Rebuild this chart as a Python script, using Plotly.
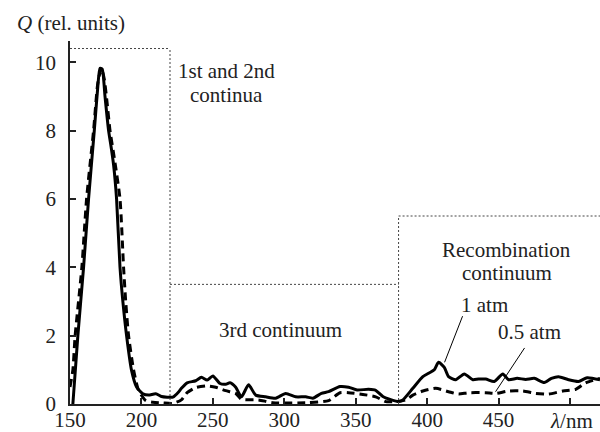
import plotly.graph_objects as go

# ---- data ----
wl_1atm = [152, 155.5, 159.5, 163, 167, 169.5, 171, 172.5, 174.5, 177, 178.5, 180.5, 182.6, 185, 187, 189.6,
           193, 196.6, 201, 205, 210, 214, 218, 222, 226, 228, 232, 238, 242, 246, 250, 255, 259, 262, 266,
           270, 275, 280, 287, 294, 301, 308, 315, 320, 326, 331, 339, 345, 351, 359, 364, 369, 375, 380,
           383, 390, 397, 401, 405, 408, 412, 415, 420, 426, 432, 436, 441, 447, 453, 457, 463, 469, 475,
           482, 487, 492, 499, 506, 512, 521]
q_1atm = [0.0, 2.0, 4.0, 6.0, 8.0, 9.3, 9.82, 9.8, 9.0, 8.0, 7.6, 7.0, 6.0, 4.0, 3.0, 2.0,
          1.0, 0.5, 0.3, 0.26, 0.3, 0.22, 0.2, 0.2, 0.35, 0.46, 0.62, 0.68, 0.78, 0.7, 0.82, 0.6, 0.58, 0.62, 0.49,
          0.21, 0.56, 0.26, 0.21, 0.17, 0.31, 0.21, 0.21, 0.17, 0.31, 0.36, 0.51, 0.49, 0.41, 0.43, 0.4, 0.22, 0.12, 0.07,
          0.12, 0.46, 0.8, 0.9, 1.0, 1.22, 1.07, 0.8, 0.71, 0.88, 0.71, 0.73, 0.73, 0.66, 0.88, 0.71, 0.75, 0.72, 0.75,
          0.63, 0.75, 0.8, 0.71, 0.66, 0.77, 0.71]

wl_05atm = [150, 152, 153.6, 158.3, 161.6, 166.5, 169.5, 172, 174, 176, 178, 181, 185, 187.5, 189, 191,
            194.5, 198, 203, 208, 215, 222, 228, 232, 238, 246, 252, 259, 266, 270, 282, 292, 317, 331,
            339, 345, 355, 364, 371, 378, 385, 390, 397, 406, 415, 422, 429, 441, 448, 457, 467, 476,
            485, 495, 504, 511, 521]
q_05atm = [0.5, 1.0, 2.0, 4.0, 6.0, 8.0, 9.4, 9.82, 9.5, 8.8, 8.0, 7.2, 6.0, 4.0, 3.0, 2.0,
           1.0, 0.4, 0.1, 0.05, 0.03, 0.02, 0.12, 0.33, 0.48, 0.53, 0.49, 0.39, 0.31, 0.14, 0.12, 0.04, 0.04, 0.1,
           0.33, 0.33, 0.28, 0.21, 0.07, 0.07, 0.12, 0.26, 0.38, 0.46, 0.36, 0.29, 0.33, 0.33, 0.31, 0.38, 0.38, 0.31,
           0.29, 0.38, 0.43, 0.62, 0.75]

x_ticks = [150, 200, 250, 300, 350, 400, 450, 500]
x_tick_text = ["150", "200", "250", "300", "350", "400", "450", ""]
y_ticks = [0, 2, 4, 6, 8, 10]

region_edges = [150, 220, 380, 521]
region_tops = [10.4, 3.5, 5.5]

FONT = "Liberation Serif"
ML, MR, MT, MB = 70, 0, 41, 28
W, H = 600, 432
PW, PH = W - ML - MR, H - MT - MB

fig = go.Figure()
fig.add_trace(go.Scatter(x=wl_05atm, y=q_05atm, mode="lines", name="0.5 atm",
                         line=dict(color="black", width=3, dash="8px,5px", shape="spline", smoothing=0.6)))
fig.add_trace(go.Scatter(x=wl_1atm, y=q_1atm, mode="lines", name="1 atm",
                         line=dict(color="black", width=3, shape="spline", smoothing=0.6)))

# region boxes (dotted)
dot = dict(color="#444", width=1, dash="2px,2px")
shapes = []
for i in range(3):
    x0, x1, top = region_edges[i], region_edges[i + 1], region_tops[i]
    shapes.append(dict(type="line", xref="x", yref="y", x0=x0, x1=x1, y0=top, y1=top, line=dot))
shapes.append(dict(type="line", xref="x", yref="y", x0=region_edges[1], x1=region_edges[1],
                   y0=0, y1=region_tops[0], line=dot))
shapes.append(dict(type="line", xref="x", yref="y", x0=region_edges[2], x1=region_edges[2],
                   y0=0, y1=region_tops[2], line=dot))
# leader lines
shapes.append(dict(type="line", xref="x", yref="y", x0=424.8, y0=2.57, x1=412.2, y1=1.22,
                   line=dict(color="black", width=1)))
shapes.append(dict(type="line", xref="x", yref="y", x0=468.2, y0=1.64, x1=447.9, y1=0.36,
                   line=dict(color="black", width=1)))

tf = dict(family=FONT, size=21, color="#222")


def data_note(text, x, y):
    return dict(text=text, x=x, y=y, xref="x", yref="y", showarrow=False, font=tf,
                xanchor="center", yanchor="middle")


def px_note(text, px, py, xanchor="center"):
    return dict(text=text, x=(px - ML) / PW, y=(H - MB - py) / PH, xref="paper", yref="paper",
                showarrow=False, font=tf, xanchor=xanchor, yanchor="middle")


annotations = [
    data_note("1st and 2nd", 259.4, 9.73),
    data_note("continua", 259.4, 9.03),
    data_note("3rd continuum", 297, 2.16),
    data_note("Recombination", 455.6, 4.5),
    data_note("continuum", 455.6, 3.83),
    data_note("1 atm", 440.2, 2.89),
    data_note("0.5 atm", 471.7, 2.1),
    px_note("<i>Q</i> (rel. units)", 15, 23, xanchor="left"),
    px_note("<i>λ</i>/nm", 571, 421),
]

fig.update_layout(
    width=W, height=H,
    margin=dict(l=ML, r=MR, t=MT, b=MB, autoexpand=False),
    paper_bgcolor="white", plot_bgcolor="white",
    showlegend=False,
    shapes=shapes,
    annotations=annotations,
    font=dict(family=FONT, size=21, color="#222"),
)

fig.update_xaxes(range=[150, 521], tickvals=x_ticks, ticktext=x_tick_text, ticks="inside", ticklen=6,
                 tickwidth=1.5, tickcolor="#222", showline=True, linecolor="#222", linewidth=1.5,
                 showgrid=False, zeroline=False, tickfont=dict(family=FONT, size=21),
                 ticklabelstandoff=-4, automargin=False)
fig.update_yaxes(range=[0, 10.62], tickvals=y_ticks, ticks="inside", ticklen=6, tickwidth=1.5,
                 tickcolor="#222", showline=True, linecolor="#222", linewidth=1.5,
                 showgrid=False, zeroline=False, tickfont=dict(family=FONT, size=21),
                 ticklabelstandoff=8, automargin=False)

fig.write_html("out.html", config={"displayModeBar": False},
               post_script="document.body.style.margin='0';document.body.style.padding='0';")
